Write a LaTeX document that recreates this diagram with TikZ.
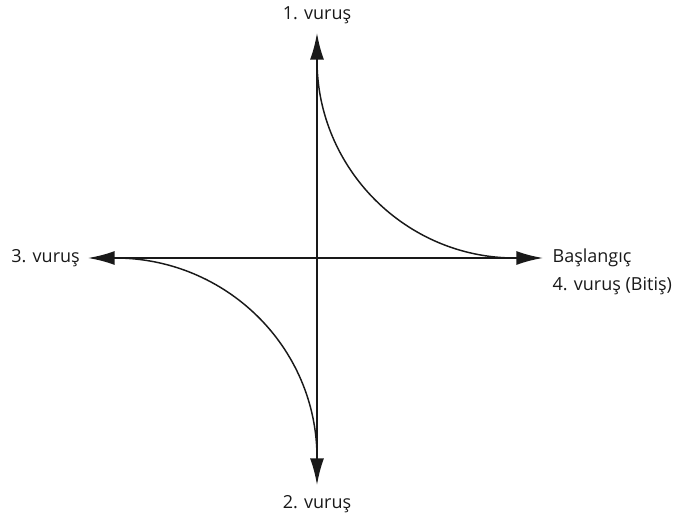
\documentclass[tikz,border=0pt]{standalone}
\usepackage{fontspec}
\setmainfont{Open Sans}
\usepackage{tikz}
\usetikzlibrary{arrows.meta,positioning,calc}

\begin{document}
\begin{tikzpicture}[
        x=0.75pt, y=-0.75pt,
        axis/.style={-{Latex[length=20pt, width=10.5pt]}, line width=1.5pt, black!90},
        curve/.style={line width=1.1pt, black!90},
        lbl/.style={font=\fontsize{13.5}{16}\selectfont, text=black!90, inner sep=0pt}
    ]
        \useasboundingbox (0,0) rectangle (688,525);

        % axis ends
        \coordinate (O)  at (317,258);
        \coordinate (up) at (317,33);
        \coordinate (dn) at (317,485);
        \coordinate (lt) at (88,258);
        \coordinate (rt) at (543,258);

        % curve ends (at the arrow heads)
        \coordinate (a1) at (317,60);
        \coordinate (a2) at (515,258);
        \coordinate (b1) at (115,258);
        \coordinate (b2) at (317,458);

        \draw[axis] (O) -- (up);
        \draw[axis] (O) -- (dn);
        \draw[axis] (O) -- (lt);
        \draw[axis] (O) -- (rt);

        \draw[curve] (a1) .. controls ($(a1)+(0,109)$) and ($(a2)+(-109,0)$) .. (a2);
        \draw[curve] (b1) .. controls ($(b1)+(111,0)$) and ($(b2)+(0,-111)$) .. (b2);

        \node[lbl, above=7pt of up]  (v1) {1. vuruş};
        \node[lbl, below=8pt of dn]  (v2) {2. vuruş};
        \node[lbl, left=6pt of lt]   (v3) {3. vuruş};
        \node[lbl, right=7pt of rt]  (st) {Başlangıç};
        \node[lbl, below=7pt of st.south west, anchor=north west] (v4) {4. vuruş (Bitiş)};
    \end{tikzpicture}
\end{document}
